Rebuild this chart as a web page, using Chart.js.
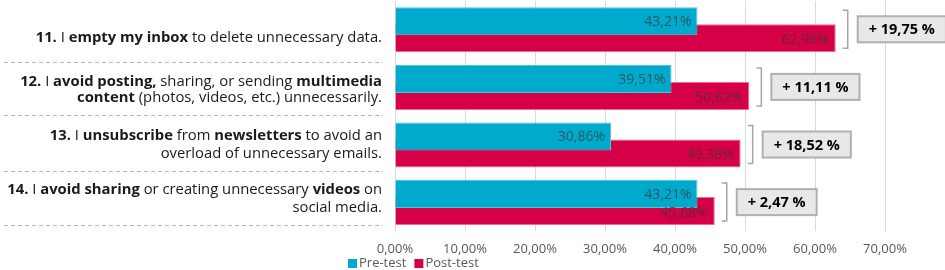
<!DOCTYPE html>
<html>
<head>
<meta charset="utf-8">
<script src="https://cdn.jsdelivr.net/npm/chart.js@4.4.1/dist/chart.umd.min.js"></script>
<style>
  html, body { margin: 0; padding: 0; background: #fff; }
</style>
</head>
<body>
<canvas id="chart" width="945" height="270"></canvas>
<script>
// ---- data ----
const categories = ['11', '12', '13', '14'];
const seriesNames = ['Pre-test', 'Post-test'];
const preTest = [0.4321, 0.3951, 0.3086, 0.4321];
const postTest = [0.6296, 0.5062, 0.4938, 0.4568];
const gainLabels = ['+ 19,75 %', '+ 11,11 %', '+ 18,52 %', '+ 2,47 %'];
const xTicks = [0, 0.1, 0.2, 0.3, 0.4, 0.5, 0.6, 0.7];

// question texts, one array of [text, bold] segments per line
const questionLines = [
    [[['11.', true], [' I ', false], ['empty my inbox', true], [' to delete unnecessary data.', false]]],
    [[['12.', true], [' I ', false], ['avoid posting,', true], [' sharing, or sending ', false], ['multimedia', true]],
     [['content', true], [' (photos, videos, etc.) unnecessarily.', false]]],
    [[['13.', true], [' I ', false], ['unsubscribe', true], [' from ', false], ['newsletters', true], [' to avoid an', false]],
     [['overload of unnecessary emails.', false]]],
    [[['14.', true], [' I ', false], ['avoid sharing', true], [' or creating unnecessary ', false], ['videos', true], [' on', false]],
     [['social media.', false]]]
];

// ---- layout / style ----
const preColor = '#00aacc';
const postColor = '#d50045';
const gridColor = '#d9d9d9';
const axisTextColor = '#595959';
const labelFont = 'Open Sans';
const labelShift = [[8], [-6, 10], [-9, 9], [-13, 5]];   // px from band centre
const separatorShift = [32, 28, 26, 22];                 // px from band centre

const fmtPct = v => (v * 100).toFixed(2).replace('.', ',') + '%';

const overlay = {
    id: 'overlay',
    afterDatasetsDraw(chart) {
        const ctx = chart.ctx;
        const pre = chart.getDatasetMeta(0).data;
        const post = chart.getDatasetMeta(1).data;

        // value labels inside bar ends
        ctx.save();
        ctx.font = '14px "' + labelFont + '"';
        ctx.fillStyle = 'rgba(55, 55, 55, 0.7)';
        ctx.textAlign = 'right';
        ctx.textBaseline = 'middle';
        pre.forEach((bar, i) => ctx.fillText(fmtPct(preTest[i]), bar.x - 6, bar.y + 1));
        post.forEach((bar, i) => ctx.fillText(fmtPct(postTest[i]), bar.x - 7, bar.y + 2));

        // brackets and gain boxes
        categories.forEach((c, i) => {
            const top = pre[i].y - pre[i].height / 2 + 3;
            const bottom = post[i].y + post[i].height / 2 - 4;
            const bx = Math.max(pre[i].x, post[i].x) + 12;
            ctx.strokeStyle = '#a6a6a6';
            ctx.lineWidth = 1.5;
            ctx.beginPath();
            ctx.moveTo(bx - 5, top);
            ctx.lineTo(bx, top);
            ctx.lineTo(bx, bottom);
            ctx.lineTo(bx - 5, bottom);
            ctx.stroke();

            ctx.font = 'bold 14.5px "' + labelFont + '"';
            const tw = ctx.measureText(gainLabels[i]).width;
            const w = tw + 22, h = 26;
            const boxX = bx + 10;
            const cy = (top + bottom) / 2;
            ctx.fillStyle = '#e8e8e8';
            ctx.fillRect(boxX, cy - h / 2, w, h);
            ctx.strokeStyle = '#b0b0b0';
            ctx.lineWidth = 2;
            ctx.strokeRect(boxX, cy - h / 2, w, h);
            ctx.fillStyle = '#000';
            ctx.textAlign = 'center';
            ctx.fillText(gainLabels[i], boxX + w / 2, cy + 1);
        });
        ctx.restore();
    },
    afterDraw(chart) {
        const ctx = chart.ctx;
        const yScale = chart.scales.y;
        ctx.save();
        ctx.textBaseline = 'middle';
        ctx.fillStyle = '#1a1a1a';
        const rightX = 382;
        const size = '14.8px "' + labelFont + '"';

        questionLines.forEach((lines, i) => {
            const yc = yScale.getPixelForValue(i);
            lines.forEach((segs, j) => {
                let total = 0;
                segs.forEach(s => {
                    ctx.font = (s[1] ? 'bold ' : '') + size;
                    total += ctx.measureText(s[0]).width;
                });
                let x = rightX - total;
                const y = yc + labelShift[i][j];
                segs.forEach(s => {
                    ctx.font = (s[1] ? 'bold ' : '') + size;
                    ctx.fillText(s[0], x, y);
                    x += ctx.measureText(s[0]).width;
                });
            });
            // dashed separator
            const sy = Math.round(yc + separatorShift[i]) + 0.5;
            ctx.strokeStyle = '#b4b4b4';
            ctx.lineWidth = 1.2;
            ctx.setLineDash([4, 3]);
            ctx.beginPath();
            ctx.moveTo(4, sy);
            ctx.lineTo(383, sy);
            ctx.stroke();
            ctx.setLineDash([]);
        });

        // legend
        ctx.font = '13px "' + labelFont + '"';
        let lx = 348;
        const ly = 263;
        [preColor, postColor].forEach((col, k) => {
            ctx.fillStyle = col;
            ctx.fillRect(lx, ly - 4, 9, 9);
            ctx.fillStyle = axisTextColor;
            ctx.textAlign = 'left';
            ctx.fillText(seriesNames[k], lx + 11, ly);
            lx += 11 + ctx.measureText(seriesNames[k]).width + 8;
        });
        ctx.restore();
    }
};

new Chart(document.getElementById('chart'), {
    type: 'bar',
    data: {
        labels: categories,
        datasets: [
            {
                label: seriesNames[0],
                data: preTest,
                backgroundColor: preColor,
                borderColor: '#4cc6df',
                borderWidth: 1,
                categoryPercentage: 0.59,
                barPercentage: 1.65
            },
            {
                label: seriesNames[1],
                data: postTest,
                backgroundColor: postColor,
                borderColor: '#ee6b95',
                borderWidth: 1,
                categoryPercentage: 0.59,
                barPercentage: 1.65
            }
        ]
    },
    options: {
        indexAxis: 'y',
        responsive: false,
        animation: false,
        devicePixelRatio: 1,
        layout: {
            padding: { left: 395, right: 60, top: 1, bottom: 3 }
        },
        plugins: {
            legend: { display: false },
            tooltip: { enabled: false }
        },
        scales: {
            x: {
                min: 0,
                max: 0.7,
                afterBuildTicks: axis => {
                    axis.ticks = xTicks.map(v => ({ value: v }));
                },
                border: { display: false },
                grid: {
                    color: gridColor,
                    drawTicks: false
                },
                ticks: {
                    color: axisTextColor,
                    padding: 10,
                    font: { family: labelFont, size: 13 },
                    callback: value => fmtPct(value)
                }
            },
            y: {
                display: false
            }
        }
    },
    plugins: [overlay]
});
</script>
</body>
</html>
